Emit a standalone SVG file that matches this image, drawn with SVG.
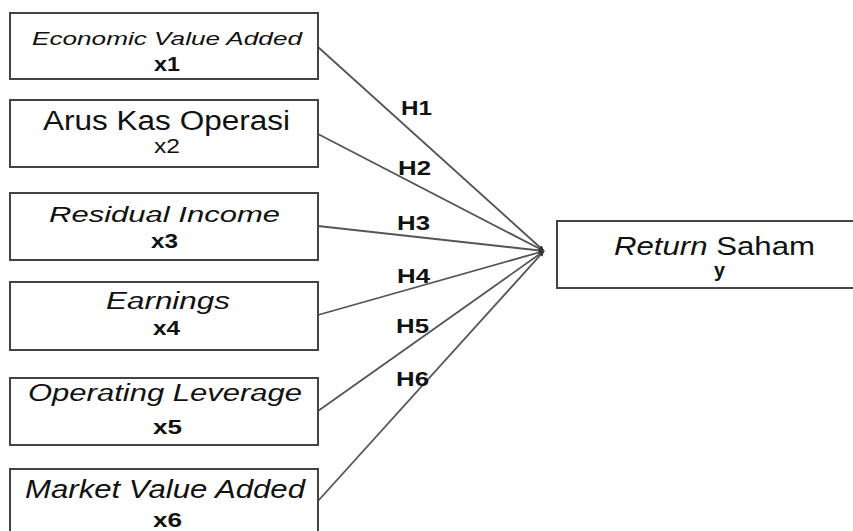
<svg xmlns="http://www.w3.org/2000/svg" width="853" height="531" viewBox="0 0 853 531">
<style>
.box{fill:#fff;stroke:#444;stroke-width:2}
.t{font-family:"Liberation Sans",Arial,sans-serif;fill:#111;text-anchor:start}
.i{font-style:italic}
.b{font-weight:bold}
.ln{stroke:#555;stroke-width:1.8;fill:none;marker-end:url(#ah)}
.h{font-family:"Liberation Sans",Arial,sans-serif;fill:#111;font-weight:bold;font-size:20px}
</style>
<defs>
<marker id="ah" viewBox="0 0 6 6" refX="6" refY="3" markerWidth="3" markerHeight="3" orient="auto" markerUnits="strokeWidth">
<path d="M0,0 L6,3 L0,6 z" fill="#333"/>
</marker>
</defs>
<rect width="853" height="531" fill="#fff"/>
<g id="connectors">
<line class="ln" x1="318" y1="47" x2="544" y2="251"/>
<line class="ln" x1="318" y1="134" x2="544" y2="251"/>
<line class="ln" x1="318" y1="226" x2="544" y2="251"/>
<line class="ln" x1="318" y1="315" x2="544" y2="251"/>
<line class="ln" x1="318" y1="411" x2="544" y2="251"/>
<line class="ln" x1="318" y1="501" x2="544" y2="251"/>
<text class="h" x="401" y="115" textLength="31" lengthAdjust="spacingAndGlyphs">H1</text>
<text class="h" x="398" y="175" textLength="33" lengthAdjust="spacingAndGlyphs">H2</text>
<text class="h" x="397" y="230" textLength="33" lengthAdjust="spacingAndGlyphs">H3</text>
<text class="h" x="397" y="283" textLength="33" lengthAdjust="spacingAndGlyphs">H4</text>
<text class="h" x="396" y="333" textLength="33" lengthAdjust="spacingAndGlyphs">H5</text>
<text class="h" x="396" y="386" textLength="33" lengthAdjust="spacingAndGlyphs">H6</text>
</g>
<g id="x1">
<rect class="box" x="10" y="13" width="308" height="66"/>
<text class="t i" x="32" y="45" font-size="19" textLength="270" lengthAdjust="spacingAndGlyphs">Economic Value Added</text>
<text class="t b" x="154" y="71" font-size="20" textLength="26" lengthAdjust="spacingAndGlyphs">x1</text>
</g>
<g id="x2">
<rect class="box" x="10" y="100" width="308" height="67"/>
<text class="t" x="43" y="130" font-size="27" textLength="247" lengthAdjust="spacingAndGlyphs">Arus Kas Operasi</text>
<text class="t" x="154" y="153" font-size="21" textLength="26" lengthAdjust="spacingAndGlyphs">x2</text>
</g>
<g id="x3">
<rect class="box" x="10" y="193" width="308" height="67"/>
<text class="t i" x="49" y="222" font-size="22" textLength="231" lengthAdjust="spacingAndGlyphs">Residual Income</text>
<text class="t b" x="151" y="248" font-size="20" textLength="27" lengthAdjust="spacingAndGlyphs">x3</text>
</g>
<g id="x4">
<rect class="box" x="10" y="282" width="308" height="68"/>
<text class="t i" x="106" y="309" font-size="23" textLength="124" lengthAdjust="spacingAndGlyphs">Earnings</text>
<text class="t b" x="153" y="335" font-size="20" textLength="27" lengthAdjust="spacingAndGlyphs">x4</text>
</g>
<g id="x5">
<rect class="box" x="10" y="378" width="308" height="67"/>
<text class="t i" x="28" y="401" font-size="23" textLength="274" lengthAdjust="spacingAndGlyphs">Operating Leverage</text>
<text class="t b" x="153" y="434" font-size="20" textLength="29" lengthAdjust="spacingAndGlyphs">x5</text>
</g>
<g id="x6">
<rect class="box" x="10" y="469" width="308" height="70"/>
<text class="t i" x="25" y="498" font-size="26" textLength="280" lengthAdjust="spacingAndGlyphs">Market Value Added</text>
<text class="t b" x="153" y="527" font-size="20" textLength="29" lengthAdjust="spacingAndGlyphs">x6</text>
</g>
<g id="y">
<rect class="box" x="557" y="221" width="300" height="67"/>
<text class="t" x="614" y="255" font-size="26" textLength="201" lengthAdjust="spacingAndGlyphs"><tspan class="i">Return</tspan> Saham</text>
<text class="t b" x="714" y="277" font-size="20" textLength="11" lengthAdjust="spacingAndGlyphs">y</text>
</g>
</svg>
